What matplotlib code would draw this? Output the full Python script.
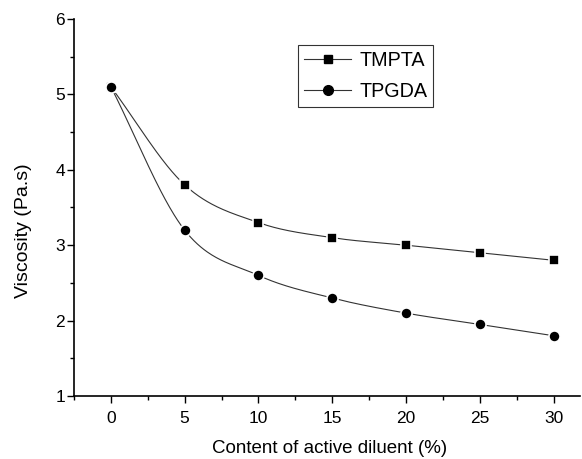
import numpy as np
import matplotlib
matplotlib.use("Agg")
import matplotlib.pyplot as plt
from matplotlib.ticker import MultipleLocator
from matplotlib.lines import Line2D

plt.rcParams['font.family'] = ['Liberation Sans', 'DejaVu Sans']

content = [0, 5, 10, 15, 20, 25, 30]
tmpta = [5.1, 3.8, 3.3, 3.1, 3.0, 2.9, 2.8]
tpgda = [5.1, 3.2, 2.6, 2.3, 2.1, 1.95, 1.8]
series_names = ["TMPTA", "TPGDA"]


def catmull_rom(x, y, n=400):
    x = np.asarray(x, float)
    y = np.asarray(y, float)
    k = len(x)
    h = np.diff(x)
    m = np.zeros(k)
    m[0] = (y[1] - y[0]) / (x[1] - x[0])
    m[-1] = (y[-1] - y[-2]) / (x[-1] - x[-2])
    for i in range(1, k - 1):
        m[i] = (y[i + 1] - y[i - 1]) / (x[i + 1] - x[i - 1])
    xs = np.linspace(x[0], x[-1], n)
    ys = np.empty_like(xs)
    for j, xv in enumerate(xs):
        i = min(np.searchsorted(x, xv, side='right') - 1, k - 2)
        t = (xv - x[i]) / h[i]
        h00 = 2 * t**3 - 3 * t**2 + 1
        h10 = t**3 - 2 * t**2 + t
        h01 = -2 * t**3 + 3 * t**2
        h11 = t**3 - t**2
        ys[j] = h00 * y[i] + h10 * h[i] * m[i] + h01 * y[i + 1] + h11 * h[i] * m[i + 1]
    return xs, ys


fig = plt.figure(figsize=(5.82, 4.59), dpi=100)
ax = fig.add_axes([0.127, 0.137, 0.87, 0.822])

for vals, name, mk, ms in [(tmpta, series_names[0], 's', 7.5), (tpgda, series_names[1], 'o', 8)]:
    xs, ys = catmull_rom(content, vals)
    ax.plot(xs, ys, color='#333333', lw=0.8, zorder=2)
    ax.plot(content, vals, linestyle='none', marker=mk, ms=ms, color='black',
            markeredgecolor='white', markeredgewidth=1.2, zorder=3)

handles = [Line2D([], [], color='#333333', lw=0.8, marker='s', ms=6, markerfacecolor='black', markeredgecolor='black'),
           Line2D([], [], color='#333333', lw=0.8, marker='o', ms=7, markerfacecolor='black', markeredgecolor='black')]
leg = ax.legend(handles, series_names, loc='upper left', bbox_to_anchor=(0.443, 0.931),
                fontsize=14.2, frameon=True, fancybox=False, edgecolor='black',
                handlelength=2.4, handletextpad=0.4, borderpad=0.3, labelspacing=0.6,
                borderaxespad=0)
leg.get_frame().set_linewidth(0.8)

ax.set_xlim(-2.5, 31.8)
ax.set_ylim(1, 6)
ax.xaxis.set_major_locator(MultipleLocator(5))
ax.xaxis.set_minor_locator(MultipleLocator(2.5))
ax.yaxis.set_major_locator(MultipleLocator(1))
ax.yaxis.set_minor_locator(MultipleLocator(0.5))
for s in ['top', 'right']:
    ax.spines[s].set_visible(False)
for s in ['left', 'bottom']:
    ax.spines[s].set_linewidth(1.2)
ax.tick_params(which='major', direction='out', length=5, width=1, labelsize=12.5)
ax.tick_params(which='minor', direction='out', length=3, width=1)
ax.tick_params(axis='x', which='major', pad=6)
ax.tick_params(axis='y', which='major', pad=1.5)
ax.set_xlabel('Content of active diluent (%)', fontsize=13.5)
ax.xaxis.set_label_coords(0.505, -0.115)
ax.set_ylabel('Viscosity (Pa.s)', fontsize=14)
ax.yaxis.set_label_coords(-0.083, 0.438)

fig.savefig('out.png', dpi=100)
